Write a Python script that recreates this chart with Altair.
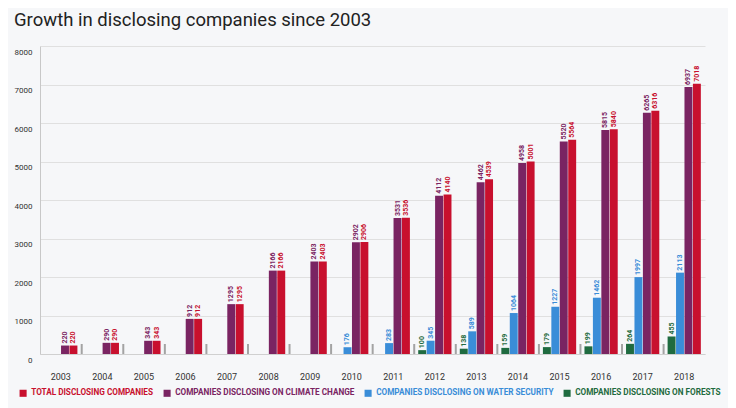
import altair as alt
import pandas as pd

years = ["2003", "2004", "2005", "2006", "2007", "2008", "2009", "2010",
         "2011", "2012", "2013", "2014", "2015", "2016", "2017", "2018"]
total = [220, 290, 343, 912, 1295, 2166, 2403, 2906, 3536, 4140, 4539, 5001, 5564, 5840, 6316, 7018]
climate = [220, 290, 343, 912, 1295, 2166, 2403, 2902, 3531, 4112, 4462, 4958, 5520, 5815, 6265, 6937]
water = [None, None, None, None, None, None, None, 176, 283, 345, 589, 1064, 1227, 1462, 1997, 2113]
forests = [None, None, None, None, None, None, None, None, None, 100, 138, 159, 179, 199, 264, 455]
y_ticks = [0, 1000, 2000, 3000, 4000, 5000, 6000, 7000, 8000]

series_names = ["TOTAL DISCLOSING COMPANIES",
                "COMPANIES DISCLOSING ON CLIMATE CHANGE",
                "COMPANIES DISCLOSING ON WATER SECURITY",
                "COMPANIES DISCLOSING ON FORESTS"]
series_colors = ["#C8102E", "#7A2462", "#3A8DD8", "#1F6B40"]
offset_order = [series_names[3], series_names[2], series_names[1], series_names[0]]

rows = []
for name, vals in zip(series_names, [total, climate, water, forests]):
    for y, v in zip(years, vals):
        if v is not None:
            rows.append({"year": y, "series": name, "value": v})
df = pd.DataFrame(rows)
tick_df = pd.DataFrame({"year": years[1:]})

x_scale = alt.Scale(domain=years, paddingInner=0.2, paddingOuter=0.1)
y_scale = alt.Scale(domain=[0, 8000], nice=False)
color_scale = alt.Scale(domain=series_names, range=series_colors)

x_axis = alt.Axis(labelAngle=0, labelFontSize=9, labelColor="#333333",
                  labelFont="Roboto", ticks=False, domain=True,
                  domainColor="#d0d0d0", labelPadding=18)
y_axis = alt.Axis(values=y_ticks, format="d", labelOverlap=False,
                  grid=True, gridColor="#e0e0e0", domain=True,
                  domainColor="#c8c8c8", ticks=False, labelFontSize=8,
                  labelFont="Roboto", labelColor="#333333",
                  labelPadding=8, labelOffset=6)

x_enc = alt.X("year:N", scale=x_scale, sort=years, title=None, axis=x_axis)
y_enc = alt.Y("value:Q", scale=y_scale, title=None, axis=y_axis)
xoff = alt.XOffset("series:N", sort=offset_order,
                   scale=alt.Scale(domain=offset_order, paddingInner=0.06))
color = alt.Color("series:N", scale=color_scale,
                  legend=alt.Legend(orient="none", legendX=-21, legendY=343,
                                    direction="horizontal", title=None,
                                    symbolType="square", symbolSize=50,
                                    symbolStrokeWidth=0, labelFontSize=8.2,
                                    labelFont="Roboto", labelFontWeight="bold",
                                    columnPadding=9, labelOffset=4, labelLimit=400,
                                    labelColor={"expr": "scale('color', datum.value)"}))

base = alt.Chart(df)
bars = base.mark_bar().encode(x=x_enc, y=y_enc, xOffset=xoff, color=color)
labels = base.mark_text(angle=270, align="left", baseline="middle", dx=2,
                        fontSize=7, font="Roboto", fontWeight="bold").encode(
    x=x_enc,
    y=y_enc,
    xOffset=xoff,
    text=alt.Text("value:Q"),
    color=alt.Color("series:N", scale=color_scale, legend=None),
)
ticks = alt.Chart(tick_df).mark_rule(color="#a3a3a3", strokeWidth=2, xOffset=-4).encode(
    x=alt.X("year:N", scale=x_scale, sort=years, bandPosition=0, title=None, axis=x_axis),
    y=alt.YDatum(datum=0, scale=y_scale, title=None, axis=y_axis),
    y2=alt.datum(260),
)

chart = alt.layer(bars, ticks, labels).properties(
    width=665, height=308,
    title=alt.TitleParams("Growth in disclosing companies since 2003", anchor="start",
                          fontSize=18.5, font="Roboto", fontWeight="normal",
                          color="#222222", offset=17),
    autosize=alt.AutoSizeParams(type="none"),
    padding={"left": 32, "top": 38, "right": 23, "bottom": 54},
    background="#f6f7f9",
).configure_view(stroke=None)

chart.save("out.html", embed_options={"renderer": "svg", "actions": False})
